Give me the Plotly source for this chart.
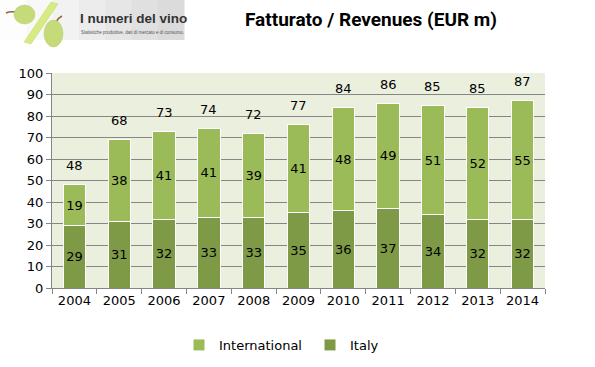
import plotly.graph_objects as go

years = ["2004", "2005", "2006", "2007", "2008", "2009", "2010", "2011", "2012", "2013", "2014"]
italy = [29, 31, 32, 33, 33, 35, 36, 37, 34, 32, 32]
international = [19, 38, 41, 41, 39, 41, 48, 49, 51, 52, 55]
totals = [48, 68, 73, 74, 72, 77, 84, 86, 85, 85, 87]
y_ticks = [0, 10, 20, 30, 40, 50, 60, 70, 80, 90, 100]

W, H = 595, 367
L, R, T, B = 52, 545, 73, 288

def px(x):
    return (x - L) / (R - L)

def py(y):
    return (B - y) / (B - T)

FONT = "DejaVu Sans"
C_ITALY = "#7e9a47"
C_INTL = "#9bbb59"

fig = go.Figure()
fig.add_trace(go.Bar(
    x=years, y=italy, name="Italy", marker=dict(color=C_ITALY, line=dict(color="white", width=1)),
    text=[str(v) for v in italy], textposition="inside", insidetextanchor="middle", textangle=0,
    textfont=dict(family=FONT, size=13, color="black"), width=0.5, constraintext="none"))
fig.add_trace(go.Bar(
    x=years, y=international, name="International", marker=dict(color=C_INTL, line=dict(color="white", width=1)),
    text=[str(v) for v in international], textposition="inside", insidetextanchor="middle", textangle=0,
    textfont=dict(family=FONT, size=13, color="black"), width=0.5, constraintext="none"))

annotations = []
for i, (it, intl, tot) in enumerate(zip(italy, international, totals)):
    annotations.append(dict(x=i, y=it + intl, xref="x", yref="y", text=str(tot), showarrow=False,
                            yshift=19, font=dict(family=FONT, size=13, color="black")))

# title
annotations.append(dict(x=px(371), y=py(20), xref="paper", yref="paper", text="<b>Fatturato / Revenues (EUR m)</b>",
                        showarrow=False, font=dict(family="Liberation Sans Narrow, Roboto, sans-serif", size=19, color="black"),
                        xanchor="center", yanchor="middle"))
# logo texts
annotations.append(dict(x=px(78), y=py(18), xref="paper", yref="paper", text="<b>I numeri del vino</b>",
                        showarrow=False, font=dict(family="Liberation Sans Narrow, Liberation Sans", size=13.5, color="#333333"),
                        xanchor="left", yanchor="middle"))
annotations.append(dict(x=px(79), y=py(33), xref="paper", yref="paper",
                        text="Statistiche produttive, dati di mercato e di consumo.",
                        showarrow=False, font=dict(family="Liberation Sans", size=4.5, color="#555555"),
                        xanchor="left", yanchor="middle"))

shapes = []
grays = ["#fdfdfd", "#f8f8f8", "#f2f2f2", "#ececec", "#e6e6e6", "#e0e0e0", "#dbdbdb"]
n = len(grays)
for i, g in enumerate(grays):
    x0 = i * 184 / n
    x1 = (i + 1) * 184 / n + 0.5
    shapes.append(dict(type="rect", xref="paper", yref="paper", x0=px(x0), x1=px(x1), y0=py(40), y1=py(0),
                       fillcolor=g, line=dict(width=0), layer="below"))
shapes.append(dict(type="path", xref="paper", yref="paper",
                   path=f"M {px(51)} {py(2)} L {px(58)} {py(4)} L {px(31)} {py(44)} L {px(24)} {py(42)} Z",
                   fillcolor="#d6ea86", line=dict(color="#c4d86e", width=0.5)))
shapes.append(dict(type="path", xref="paper", yref="paper",
                   path=f"M {px(16)} {py(12)} Q {px(10)} {py(11)} {px(6)} {py(13)}",
                   line=dict(color="#8a6a3a", width=1.5)))
shapes.append(dict(type="circle", xref="paper", yref="paper", x0=px(14), x1=px(35), y0=py(24), y1=py(5),
                   fillcolor="#c5da78", line=dict(color="#b5ca68", width=0.5)))
shapes.append(dict(type="path", xref="paper", yref="paper",
                   path=f"M {px(56)} {py(22)} Q {px(58)} {py(18)} {px(62)} {py(16)}",
                   line=dict(color="#8a6a3a", width=1.5)))
shapes.append(dict(type="circle", xref="paper", yref="paper", x0=px(44), x1=px(63), y0=py(47), y1=py(20),
                   fillcolor="#c5da78", line=dict(color="#b5ca68", width=0.5)))

fig.update_layout(
    width=W, height=H,
    margin=dict(l=L, r=W - R, t=T, b=H - B, autoexpand=False),
    barmode="stack",
    bargap=0.5,
    paper_bgcolor="white",
    plot_bgcolor="#ebf0de",
    font=dict(family=FONT, size=13, color="black"),
    showlegend=True,
    hovermode=False,
    legend=dict(orientation="h", xref="container", yref="container", x=179 / W, xanchor="left",
                y=1 - 345 / H, yanchor="middle",
                traceorder="reversed", font=dict(family=FONT, size=13, color="black"),
                itemwidth=30, entrywidth=86, entrywidthmode="pixels"),
    annotations=annotations,
    shapes=shapes,
)
fig.update_xaxes(type="category", range=[-0.5, 10.5], showline=True, linecolor="#868686", linewidth=1,
                 ticks="outside", tickson="boundaries", ticklen=5, tickcolor="#868686", tickangle=0,
                 automargin=False,
                 tickfont=dict(family=FONT, size=13, color="black"), showgrid=False)
fig.update_yaxes(range=[0, 100], tickvals=y_ticks, ticktext=[str(v) for v in y_ticks],
                 showline=True, linecolor="#868686", linewidth=1, automargin=False,
                 ticks="outside", ticklen=5, tickcolor="#868686",
                 showgrid=True, gridcolor="#868686", gridwidth=1, zeroline=False,
                 tickfont=dict(family=FONT, size=13, color="black"))

fig.write_html("out.html", config={"displayModeBar": False},
               post_script="document.body.style.margin='0';")
